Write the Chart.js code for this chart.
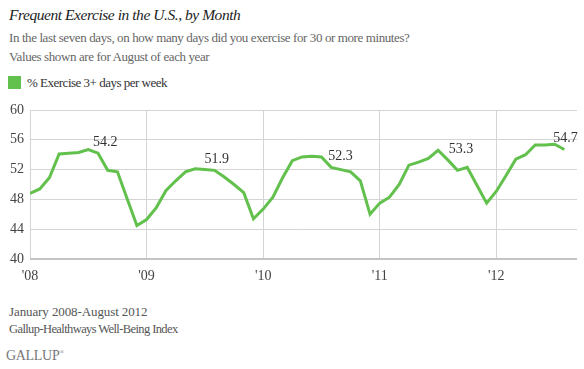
<!DOCTYPE html>
<html>
<head>
<meta charset="utf-8">
<script src="https://cdn.jsdelivr.net/npm/chart.js@4.4.0/dist/chart.umd.min.js"></script>
<style>
  body { margin: 0; width: 584px; height: 369px; background: #fff; position: relative; overflow: hidden; font-family: "Liberation Serif", serif; }
  .t { position: absolute; left: 9px; white-space: nowrap; }
  #title { top: 6px; font-size: 15.5px; font-style: italic; color: #222; letter-spacing: -0.45px; }
  #sub1 { top: 30px; font-size: 13px; color: #666; letter-spacing: -0.4px; }
  #sub2 { top: 49px; font-size: 13px; color: #666; letter-spacing: -0.4px; }
  #legend { top: 75px; font-size: 13px; color: #333; left: 8px; letter-spacing: -0.5px; }
  #legend span.box { display: inline-block; width: 13px; height: 13px; background: #62c04c; vertical-align: -2px; margin-right: 6px; }
  #foot1 { top: 304px; font-size: 13px; color: #555; letter-spacing: -0.1px; }
  #foot2 { top: 322px; font-size: 12.5px; color: #555; letter-spacing: -0.6px; }
  #brand { top: 348px; left: 6px; font-size: 14px; color: #777; letter-spacing: -0.3px; }
  #wrap { position: absolute; left: 0; top: 95px; width: 584px; height: 200px; }
</style>
</head>
<body>
<div class="t" id="title">Frequent Exercise in the U.S., by Month</div>
<div class="t" id="sub1">In the last seven days, on how many days did you exercise for 30 or more minutes?</div>
<div class="t" id="sub2">Values shown are for August of each year</div>
<div class="t" id="legend"><span class="box"></span>% Exercise 3+ days per week</div>
<div id="wrap"><canvas id="chart"></canvas></div>
<div class="t" id="foot1">January 2008-August 2012</div>
<div class="t" id="foot2">Gallup-Healthways Well-Being Index</div>
<div class="t" id="brand">GALLUP<sup style="font-size:6px">®</sup></div>
<script>
// monthly values, Jan 2008 - Aug 2012
const years = ["'08", "'09", "'10", "'11", "'12"];
const exercise = [
  48.8, 49.4, 50.9, 54.1, 54.2, 54.3, 54.7, 54.2, 51.9, 51.7, 48.1, 44.5,
  45.3, 46.9, 49.2, 50.5, 51.7, 52.1, 52.0, 51.9, 51.0, 50.0, 48.9, 45.4,
  46.7, 48.3, 50.9, 53.2, 53.7, 53.8, 53.7, 52.3, 52.0, 51.7, 50.5, 46.0,
  47.5, 48.3, 50.0, 52.6, 53.0, 53.5, 54.6, 53.3, 51.9, 52.3, 49.9, 47.5,
  49.1, 51.2, 53.4, 54.0, 55.3, 55.3, 55.4, 54.7
];
const yTicks = [40, 44, 48, 52, 56, 60];
// August of each year gets a value label
const labelIdx = [7, 19, 31, 43, 55];
const labelDx = [-5, -10, -3, 1, -11];  // pixel nudges so labels clear the line

const points = exercise.map((v, i) => ({ x: i, y: v }));

const valueLabels = {
  id: 'valueLabels',
  afterDatasetsDraw(chart) {
    const { ctx } = chart;
    const meta = chart.getDatasetMeta(0);
    ctx.save();
    ctx.font = '14px "Liberation Serif", serif';
    ctx.fillStyle = '#333';
    ctx.textAlign = 'left';
    ctx.textBaseline = 'middle';
    labelIdx.forEach((idx, k) => {
      const p = meta.data[idx];
      ctx.fillText(exercise[idx].toFixed(1), p.x + labelDx[k], p.y - 11);
    });
    ctx.restore();
  }
};

new Chart(document.getElementById('chart'), {
  type: 'line',
  data: {
    datasets: [{
      label: '% Exercise 3+ days per week',
      data: points,
      borderColor: '#62c04c',
      borderWidth: 3,
      pointRadius: 0,
      tension: 0,
      fill: false
    }]
  },
  options: {
    responsive: true,
    maintainAspectRatio: false,
    animation: false,
    layout: { padding: { top: 15, right: 7, left: 0, bottom: 0 } },
    plugins: { legend: { display: false }, tooltip: { enabled: false } },
    scales: {
      x: {
        type: 'linear',
        min: 0,
        max: 56.3,
        afterFit(s) { s.height = 36; },
        afterBuildTicks(s) { s.ticks = years.map((_, i) => ({ value: i * 12 })); },
        ticks: {
          callback: (v) => years[v / 12],
          font: { family: '"Liberation Serif", serif', size: 14 },
          color: '#444',
          padding: 9,
          maxRotation: 0,
          autoSkip: false
        },
        grid: { color: '#d4d4d4', lineWidth: 1, drawTicks: false },
        border: { display: false }
      },
      y: {
        min: 40,
        max: 60,
        afterFit(s) { s.width = 30; },
        afterBuildTicks(s) { s.ticks = yTicks.map(v => ({ value: v })); },
        ticks: {
          font: { family: '"Liberation Serif", serif', size: 14 },
          color: '#444',
          padding: 6
        },
        grid: {
          drawTicks: false,
          color: (c) => c.tick && c.tick.value === 40 ? '#c4c4c4' : '#d4d4d4',
          lineWidth: (c) => c.tick && c.tick.value === 40 ? 2 : 1
        },
        border: { display: false }
      }
    }
  },
  plugins: [valueLabels]
});
</script>
</body>
</html>
